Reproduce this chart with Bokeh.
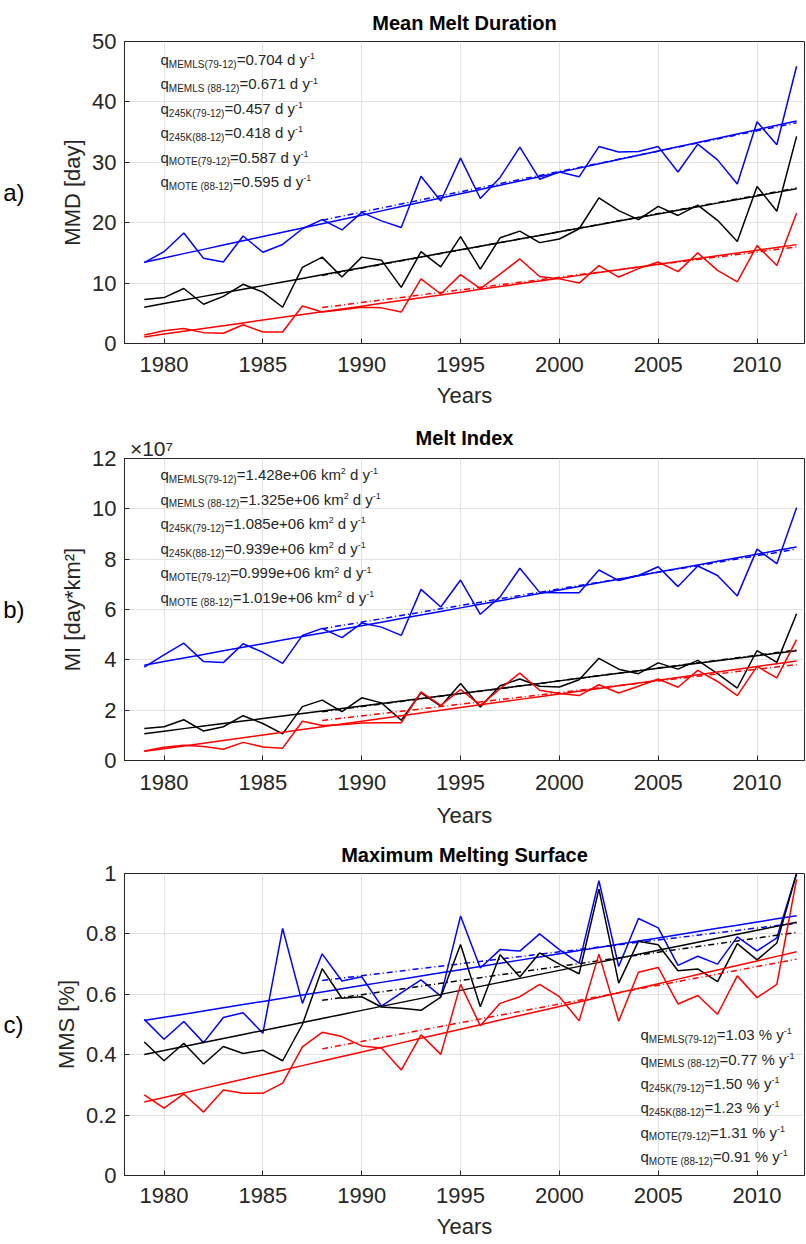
import numpy as np
from bokeh.plotting import figure
from bokeh.models import Label, LinearAxis, FixedTicker, CustomJSTickFormatter, Range1d
from bokeh.layouts import column
from bokeh.embed import file_html
from bokeh.resources import INLINE

# ---------------- data ----------------
years = list(range(1979, 2013))

# Mean Melt Duration [day]
mmd_memls = [13.4, 15.2, 18.3, 14.1, 13.5, 17.8, 15.1, 16.4, 19.0, 20.5,
             18.8, 21.7, 20.3, 19.2, 27.7, 23.6, 30.7, 24.0, 27.5, 32.5,
             27.2, 28.4, 27.6, 32.6, 31.7, 31.8, 32.6, 28.4, 33.0, 30.4,
             26.4, 36.7, 32.9, 45.9]
mmd_mote = [7.3, 7.6, 9.1, 6.5, 7.8, 9.8, 8.5, 6.0, 12.6, 14.3,
            11.0, 14.3, 13.8, 9.3, 15.2, 12.7, 17.7, 12.3, 17.5, 18.6,
            16.7, 17.3, 19.0, 24.1, 22.0, 20.5, 22.7, 21.2, 22.9, 20.4,
            16.9, 26.0, 21.9, 34.3]
mmd_245k = [1.4, 2.1, 2.5, 1.8, 1.7, 3.1, 1.9, 1.9, 6.2, 5.2,
            5.6, 6.0, 5.9, 5.2, 10.7, 8.2, 11.4, 9.1, 11.5, 14.0,
            11.1, 10.7, 10.0, 12.9, 11.0, 12.4, 13.5, 11.9, 15.0, 12.1,
            10.2, 16.2, 12.9, 21.6]

# Melt Index [day*km^2], in units of 1e7
mi_memls = [3.71, 4.20, 4.66, 3.93, 3.89, 4.64, 4.30, 3.86, 4.97, 5.25,
            4.88, 5.46, 5.30, 4.97, 6.80, 6.10, 7.17, 5.81, 6.50, 7.64,
            6.68, 6.67, 6.67, 7.57, 7.15, 7.35, 7.70, 6.91, 7.73, 7.35,
            6.54, 8.40, 7.82, 10.04]
mi_mote = [1.27, 1.34, 1.62, 1.17, 1.34, 1.78, 1.47, 1.06, 2.14, 2.40,
           1.94, 2.49, 2.29, 1.60, 2.69, 2.16, 3.06, 2.13, 2.97, 3.24,
           2.95, 2.92, 3.21, 4.06, 3.63, 3.45, 3.88, 3.63, 3.98, 3.45,
           2.88, 4.37, 3.90, 5.83]
mi_245k = [0.38, 0.53, 0.61, 0.56, 0.45, 0.72, 0.54, 0.49, 1.56, 1.39,
           1.42, 1.49, 1.50, 1.50, 2.73, 2.19, 2.82, 2.19, 2.85, 3.47,
           2.79, 2.66, 2.58, 3.01, 2.68, 2.95, 3.24, 2.91, 3.58, 3.14,
           2.58, 3.74, 3.28, 4.80]

# Maximum Melting Surface (fraction)
mms_memls = [0.517, 0.451, 0.510, 0.440, 0.523, 0.539, 0.471, 0.818, 0.570, 0.734,
             0.644, 0.658, 0.561, 0.605, 0.648, 0.594, 0.859, 0.687, 0.748, 0.743,
             0.800, 0.748, 0.703, 0.976, 0.692, 0.851, 0.820, 0.696, 0.726, 0.700,
             0.790, 0.744, 0.787, 1.000]
mms_mote = [0.442, 0.380, 0.438, 0.369, 0.427, 0.404, 0.415, 0.380, 0.500, 0.685,
            0.587, 0.592, 0.558, 0.554, 0.547, 0.591, 0.765, 0.559, 0.731, 0.657,
            0.737, 0.700, 0.668, 0.948, 0.637, 0.776, 0.764, 0.678, 0.684, 0.642,
            0.768, 0.714, 0.770, 1.000]
mms_245k = [0.267, 0.223, 0.270, 0.210, 0.283, 0.272, 0.272, 0.306, 0.426, 0.474,
            0.460, 0.429, 0.422, 0.349, 0.466, 0.401, 0.633, 0.496, 0.570, 0.592,
            0.633, 0.592, 0.512, 0.733, 0.511, 0.673, 0.689, 0.568, 0.596, 0.534,
            0.661, 0.589, 0.633, 0.981]

x_ticks = [1980, 1985, 1990, 1995, 2000, 2005, 2010]
yticks_a = [0, 10, 20, 30, 40, 50]
yticks_b = [0, 2, 4, 6, 8, 10, 12]
yticks_c = [0, 0.2, 0.4, 0.6, 0.8, 1.0]

trend_names = ["MEMLS(79-12)", "MEMLS (88-12)", "245K(79-12)", "245K(88-12)", "MOTE(79-12)", "MOTE (88-12)"]
trend_a = ["0.704", "0.671", "0.457", "0.418", "0.587", "0.595"]
trend_b = ["1.428e+06", "1.325e+06", "1.085e+06", "0.939e+06", "0.999e+06", "1.019e+06"]
trend_c = ["1.03", "0.77", "1.50", "1.23", "1.31", "0.91"]

# ---------------- style ----------------
FONT = "Liberation Sans"
TXT = "#262626"
AX = "#262626"
GRID = "#e2e2e2"
BLUE, RED, BLACK = "#0000ff", "#ff0000", "#000000"
X0, X1 = 1978, 2012.4
FL, FW, FH = 120, 680, 302  # frame left (page px), frame width, height

W = {' ': 278, '%': 889, '(': 333, ')': 333, '+': 584, '-': 333, '.': 278, '=': 584,
     'E': 667, 'K': 667, 'L': 556, 'M': 833, 'O': 778, 'S': 667, 'T': 611,
     'd': 556, 'e': 556, 'k': 500, 'm': 833, 'q': 556, 'y': 500}


def tw(s, size):
    return sum(W.get(c, 556) for c in s) * size / 1000.0


def make_fig(ymax, yticks, top, bottom, frame_top, ylabel, ttl, tag, tag_standoff,
             fmt=None, lstand=14, alstand=10):
    p = figure(frame_width=FW, frame_height=FH, x_range=Range1d(X0, X1), y_range=Range1d(0, ymax),
               output_backend="svg", toolbar_location=None, title=ttl,
               min_border_left=FL, min_border_right=4, min_border_top=top, min_border_bottom=bottom,
               background_fill_color="white", border_fill_color="white")
    if ttl is not None:
        p.title.align = "center"
        p.title.text_font = FONT
        p.title.text_font_size = "20px"
        p.title.text_font_style = "bold"
        p.title.text_color = "black"
        p.title.standoff = 16
    p.outline_line_color = AX
    p.outline_line_width = 1
    xt = FixedTicker(ticks=x_ticks)
    yt = FixedTicker(ticks=yticks)
    for ax, t in ((p.xaxis[0], xt), (p.yaxis[0], yt)):
        ax.ticker = t
        ax.major_tick_in = 5
        ax.major_tick_out = 0
        ax.minor_tick_line_color = None
        ax.axis_line_color = AX
        ax.major_tick_line_color = AX
        ax.major_label_text_font = FONT
        ax.major_label_text_font_size = "22px"
        ax.major_label_text_color = TXT
        ax.axis_label_text_font = FONT
        ax.axis_label_text_font_style = "normal"
        ax.axis_label_text_color = TXT
        ax.axis_label_text_font_size = "22px"
    p.xaxis[0].axis_label = "Years"
    p.xaxis[0].major_label_standoff = lstand
    p.xaxis[0].axis_label_standoff = alstand
    p.yaxis[0].axis_label = ylabel
    p.yaxis[0].major_label_standoff = 8
    p.yaxis[0].axis_label_standoff = 4
    if fmt is not None:
        p.yaxis[0].formatter = fmt
    # panel tag "a)" etc. drawn as the single label of an extra left axis
    tag_axis = LinearAxis(ticker=FixedTicker(ticks=[ymax / 2.0]),
                          formatter=CustomJSTickFormatter(code='return "%s";' % tag),
                          axis_line_color=None, major_tick_line_color=None, minor_tick_line_color=None,
                          major_label_text_font=FONT, major_label_text_font_size="24px",
                          major_label_text_color="black", major_label_standoff=tag_standoff)
    p.add_layout(tag_axis, "left")
    p.xgrid.ticker = xt
    p.ygrid.ticker = yt
    p.xgrid.grid_line_color = GRID
    p.ygrid.grid_line_color = GRID

    def cx(px):
        return X0 + (px - FL) / FW * (X1 - X0)

    def cy(py):
        return ymax - (py - frame_top) / FH * ymax

    return p, cx, cy


def add_series(p, vals, color):
    yr = np.array(years, dtype=float)
    v = np.array(vals, dtype=float)
    p.line(yr, v, line_color=color, line_width=1.5)
    c1 = np.polyfit(yr, v, 1)
    p.line(yr, np.polyval(c1, yr), line_color=color, line_width=1.5)
    m = yr >= 1988
    c2 = np.polyfit(yr[m], v[m], 1)
    p.line(yr[m], np.polyval(c2, yr[m]), line_color=color, line_width=1.5, line_dash="6 3 1 3")


def rich(p, cx, cy, x_px, mid_px, pieces):
    cur = x_px
    sizes = {"n": 15, "sub": 10, "sup": 9}
    dys = {"n": 0.0, "sub": 4.8, "sup": -3.4}
    for txt, kind in pieces:
        s = sizes[kind]
        while txt.startswith(" "):
            cur += tw(" ", s)
            txt = txt[1:]
        p.add_layout(Label(x=cx(cur), y=cy(mid_px + dys[kind]), text=txt, text_font=FONT,
                           text_font_size=f"{s}px", text_color=TXT, text_align="left",
                           text_baseline="middle"))
        cur += tw(txt, s)


# ---------------- panel a ----------------
pa, cxa, cya = make_fig(50, yticks_a, 41, 68, 41, "MMD [day]", "Mean Melt Duration", "a)", 27,
                        None, 13, 8)
for vals, col in ((mmd_memls, BLUE), (mmd_mote, BLACK), (mmd_245k, RED)):
    add_series(pa, vals, col)
for i in range(6):
    rich(pa, cxa, cya, 156, 59 + 24.4 * i,
         [("q", "n"), (trend_names[i], "sub"), ("=" + trend_a[i] + " d y", "n"), ("-1", "sup")])

# ---------------- panel b ----------------
pb, cxb, cyb = make_fig(12, yticks_b, 47, 72, 458, "MI [day*km²]", None, "b)", 27, None, 14, 10)
for vals, col in ((mi_memls, BLUE), (mi_mote, BLACK), (mi_245k, RED)):
    add_series(pb, vals, col)
for i in range(6):
    rich(pb, cxb, cyb, 156, 474 + 24.6 * i,
         [("q", "n"), (trend_names[i], "sub"), ("=" + trend_b[i] + " km", "n"), ("2", "sup"),
          (" d y", "n"), ("-1", "sup")])
# exponent note and title carried by an axis above the frame
top_axis = LinearAxis(ticker=FixedTicker(ticks=[cxb(147)]),
                      formatter=CustomJSTickFormatter(code='return "×10⁷";'),
                      axis_line_color=None, major_tick_line_color=None, minor_tick_line_color=None,
                      major_label_text_font=FONT, major_label_text_font_size="21px",
                      major_label_text_color=TXT, major_label_standoff=-7,
                      axis_label="Melt Index", axis_label_text_font=FONT,
                      axis_label_text_font_size="20px", axis_label_text_font_style="bold",
                      axis_label_text_color="black", axis_label_standoff=-15)
pb.add_layout(top_axis, "above")

# ---------------- panel c ----------------
fmt_c = CustomJSTickFormatter(code="return String(Math.round(tick * 10) / 10);")
pc, cxc, cyc = make_fig(1, yticks_c, 41, 67, 873, "MMS [%]", "Maximum Melting Surface", "c)", 21,
                        fmt_c, 12, 8)
for vals, col in ((mms_memls, BLUE), (mms_mote, BLACK), (mms_245k, RED)):
    add_series(pc, vals, col)
for i in range(6):
    rich(pc, cxc, cyc, 636, 1034.3 + 24.3 * i,
         [("q", "n"), (trend_names[i], "sub"), ("=" + trend_c[i] + " % y", "n"), ("-1", "sup")])

layout = column(pa, pb, pc, spacing=0)
open("out.html", "w").write(file_html(layout, INLINE))
